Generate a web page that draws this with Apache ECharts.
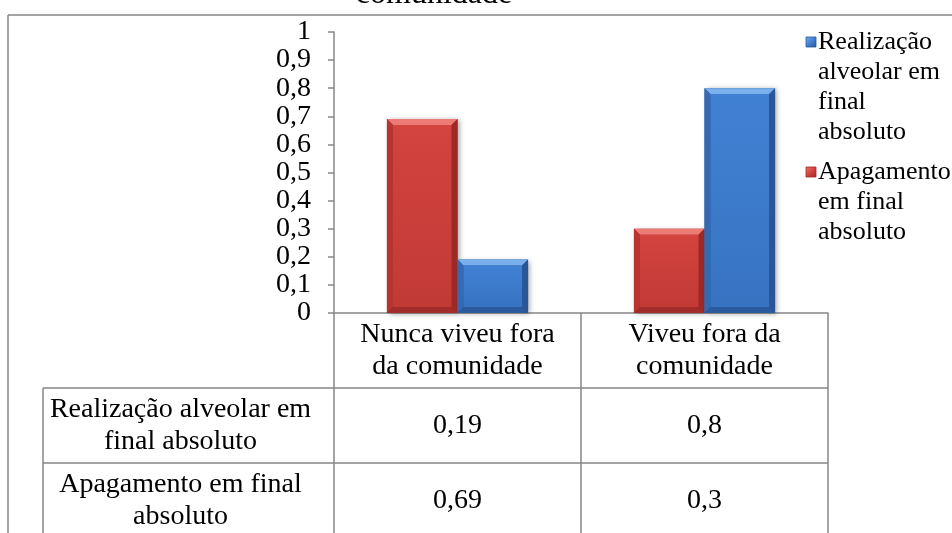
<!DOCTYPE html>
<html>
<head>
<meta charset="utf-8">
<script src="https://cdn.jsdelivr.net/npm/echarts@6/dist/echarts.min.js"></script>
<style>
  html, body { margin: 0; padding: 0; background: #fff; }
  #chart { width: 952px; height: 533px; }
</style>
</head>
<body>
<div id="chart"></div>
<script>
// Categories (header row of the data table)
const categories = ['Nunca viveu fora\nda comunidade', 'Viveu fora da\ncomunidade'];
// Series names and values
const seriesNames = ['Realização alveolar em final absoluto', 'Apagamento em final absoluto'];
const realizacao = [0.19, 0.8];
const apagamento = [0.69, 0.3];
// Wrapped texts for the data table and legend
const rowLabels = ['Realização alveolar em\nfinal absoluto', 'Apagamento em final\nabsoluto'];
const legendLabels = ['Realização\nalveolar em\nfinal\nabsoluto', 'Apagamento\nem final\nabsoluto'];
const titleText = 'comunidade';

const FONT = "'Liberation Serif', 'Times New Roman', serif";
const GRID = '#868686';
const comma = v => String(Math.round(v * 100) / 100).replace('.', ',');

const palette = {
  red:  { face: '#d3433f', faceDark: '#c23a36', top: '#ec7a75', left: '#b83430', right: '#9c2926', bottom: '#a22c29' },
  blue: { face: '#4181d3', faceDark: '#3873c2', top: '#78b0ee', left: '#3569b2', right: '#2a5696', bottom: '#2c5a9e' }
};

// Beveled bar drawn from the value through the axis scales
function bevelBar(col, slot) {
  return function (params, api) {
    const idx = api.value(0);
    const val = api.value(1);
    const base = api.coord([idx, 0]);
    const topP = api.coord([idx, val]);
    const catW = api.size([1, 0])[0];
    const bw = catW / 3.5;
    const x0 = base[0] - bw + slot * bw;
    const x1 = x0 + bw;
    const y0 = topP[1];
    const y1 = base[1];
    const b = Math.min(6, (y1 - y0) / 3);
    return {
      type: 'group',
      children: [
        { type: 'rect', shape: { x: x0, y: y0, width: bw, height: y1 - y0 },
          style: { fill: col.right, shadowBlur: 5, shadowOffsetX: 2, shadowOffsetY: 1, shadowColor: 'rgba(0,0,0,0.35)' } },
        { type: 'polygon', shape: { points: [[x0, y0], [x1, y0], [x1 - b, y0 + b], [x0 + b, y0 + b]] },
          style: { fill: col.top } },
        { type: 'polygon', shape: { points: [[x0, y0], [x0 + b, y0 + b], [x0 + b, y1 - b], [x0, y1]] },
          style: { fill: col.left } },
        { type: 'polygon', shape: { points: [[x1, y0], [x1, y1], [x1 - b, y1 - b], [x1 - b, y0 + b]] },
          style: { fill: col.right } },
        { type: 'polygon', shape: { points: [[x0, y1], [x0 + b, y1 - b], [x1 - b, y1 - b], [x1, y1]] },
          style: { fill: col.bottom } },
        { type: 'rect', shape: { x: x0 + b, y: y0 + b, width: bw - 2 * b, height: Math.max(0, y1 - y0 - 2 * b) },
          style: { fill: new echarts.graphic.LinearGradient(0, 0, 0, 1, [
            { offset: 0, color: col.face }, { offset: 1, color: col.faceDark }]) } }
      ]
    };
  };
}

const chart = echarts.init(document.getElementById('chart'), null, { renderer: 'canvas' });

const option = {
  animation: false,
  backgroundColor: '#fff',
  grid: { left: 334, right: 124, top: 32, bottom: 220 },
  xAxis: {
    type: 'category',
    data: categories,
    axisLine: { show: true, lineStyle: { color: GRID, width: 1.5 } },
    axisTick: { show: true, length: 225, alignWithLabel: false, interval: 0, lineStyle: { color: GRID, width: 1.5 } },
    axisLabel: { interval: 0, margin: 6, fontFamily: FONT, fontSize: 28, lineHeight: 32, color: '#000' }
  },
  yAxis: {
    type: 'value',
    min: 0, max: 1, interval: 0.1,
    axisLine: { show: true, lineStyle: { color: GRID, width: 1.5 } },
    axisTick: { show: true, length: 6, lineStyle: { color: GRID, width: 1.5 } },
    splitLine: { show: false },
    axisLabel: { margin: 23, fontFamily: FONT, fontSize: 28, color: '#000', formatter: comma }
  },
  series: [
    { name: seriesNames[1], type: 'custom', renderItem: bevelBar(palette.red, 0),
      encode: { x: 0, y: 1 }, data: apagamento.map((v, i) => [i, v]) },
    { name: seriesNames[0], type: 'custom', renderItem: bevelBar(palette.blue, 1),
      encode: { x: 0, y: 1 }, data: realizacao.map((v, i) => [i, v]) }
  ]
};
chart.setOption(option);

// Data table, legend, frame and title laid out from the grid coordinates
const axisY = chart.convertToPixel({ yAxisIndex: 0 }, 0);
const gridLeft = 334, gridRight = 952 - 124;
const rowH = 75;
const headerBottom = axisY + rowH;
const rowLabelLeft = 43;
const rowLabelCenter = (rowLabelLeft + gridLeft) / 2 - 8;
const tableRows = [realizacao, apagamento];

const g = [];
const line = (x1, y1, x2, y2) => ({ type: 'line', shape: { x1, y1, x2, y2 },
  style: { stroke: GRID, lineWidth: 1.5 }, silent: true });

// outer frame
g.push(line(8, 15, 952, 15));
g.push(line(8, 15, 8, 533));
// table rules
g.push(line(rowLabelLeft, headerBottom, gridRight, headerBottom));
g.push(line(rowLabelLeft, headerBottom + rowH, gridRight, headerBottom + rowH));
g.push(line(rowLabelLeft, headerBottom, rowLabelLeft, 533));

tableRows.forEach((vals, r) => {
  const cy = headerBottom + rowH * r + rowH / 2;
  g.push({ type: 'text', x: rowLabelCenter, y: cy,
    style: { text: rowLabels[r], fontFamily: FONT, fontSize: 28, lineHeight: 32,
      fill: '#000', align: 'center', verticalAlign: 'middle' } });
  vals.forEach((v, c) => {
    const cx = chart.convertToPixel({ xAxisIndex: 0 }, c);
    g.push({ type: 'text', x: cx, y: cy,
      style: { text: comma(v), fontFamily: FONT, fontSize: 28, fill: '#000',
        align: 'center', verticalAlign: 'middle' } });
  });
});

// legend
const legendItems = [
  { col: palette.blue, top: 27 },
  { col: palette.red, top: 157 }
];
legendItems.forEach((it, i) => {
  g.push({ type: 'rect', shape: { x: 806, y: it.top + 10, width: 10, height: 10 },
    style: { fill: new echarts.graphic.LinearGradient(0, 0, 1, 1, [
      { offset: 0, color: it.col.top }, { offset: 0.5, color: it.col.face }, { offset: 1, color: it.col.right }]),
      stroke: it.col.right, lineWidth: 0.8 } });
  g.push({ type: 'text', x: 818, y: it.top,
    style: { text: legendLabels[i], fontFamily: FONT, fontSize: 26, lineHeight: 30,
      fill: '#000', align: 'left', verticalAlign: 'top' } });
});

// title (last line)
g.push({ type: 'text', x: 434, y: -5,
  style: { text: titleText, fontFamily: FONT, fontSize: 32, fill: '#000',
    align: 'center', verticalAlign: 'middle' } });

chart.setOption({ graphic: g });
</script>
</body>
</html>
